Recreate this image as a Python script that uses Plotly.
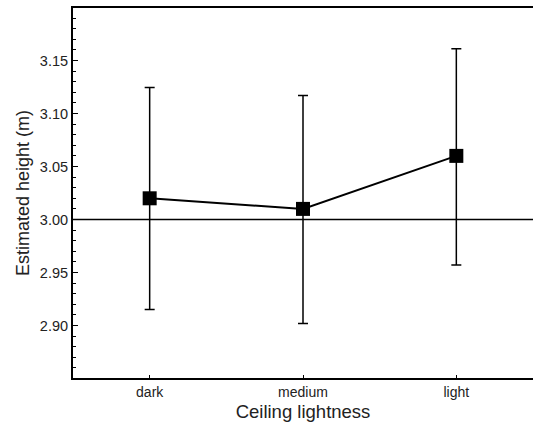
import plotly.graph_objects as go

categories = ["dark", "medium", "light"]
means = [3.020, 3.010, 3.060]
upper = [3.1245, 3.117, 3.161]
lower = [2.915, 2.902, 2.957]
reference_height = 3.00

err_plus = [u - m for u, m in zip(upper, means)]
err_minus = [m - l for l, m in zip(lower, means)]

font_family = "Liberation Sans, Arial, sans-serif"

fig = go.Figure()
fig.add_trace(go.Scatter(
    x=categories, y=means, mode="lines+markers",
    line=dict(color="black", width=2),
    marker=dict(symbol="square", size=14, color="black"),
    error_y=dict(type="data", symmetric=False, array=err_plus, arrayminus=err_minus,
                 color="black", thickness=1.5, width=5),
    showlegend=False,
))
fig.add_hline(y=reference_height, line=dict(color="black", width=1.5), layer="below")

fig.update_layout(
    width=533, height=425,
    margin=dict(l=73, r=0, t=8, b=47),
    plot_bgcolor="white", paper_bgcolor="white",
    font=dict(family=font_family, color="#222", size=14),
    xaxis=dict(
        type="category", range=[-0.5, 2.5],
        showline=True, linecolor="black", linewidth=2, mirror=True,
        ticks="inside", ticklen=3, tickcolor="black", tickwidth=1,
        showgrid=False, zeroline=False,
        title=dict(text="Ceiling lightness", font=dict(size=18.5), standoff=6),
        tickfont=dict(size=14),
    ),
    yaxis=dict(
        range=[2.8505, 3.1995],
        tickmode="linear", tick0=2.90, dtick=0.05, tickformat=".2f",
        showline=True, linecolor="black", linewidth=2,
        ticks="inside", ticklen=5, tickcolor="black", tickwidth=1,
        minor=dict(ticks="inside", ticklen=3, dtick=0.01, tick0=2.90, tickcolor="black", showgrid=False),
        showgrid=False, zeroline=False,
        title=dict(text="Estimated height (m)", font=dict(size=18), standoff=6),
        tickfont=dict(size=14.5),
    ),
)

fig.write_html("out.html")
